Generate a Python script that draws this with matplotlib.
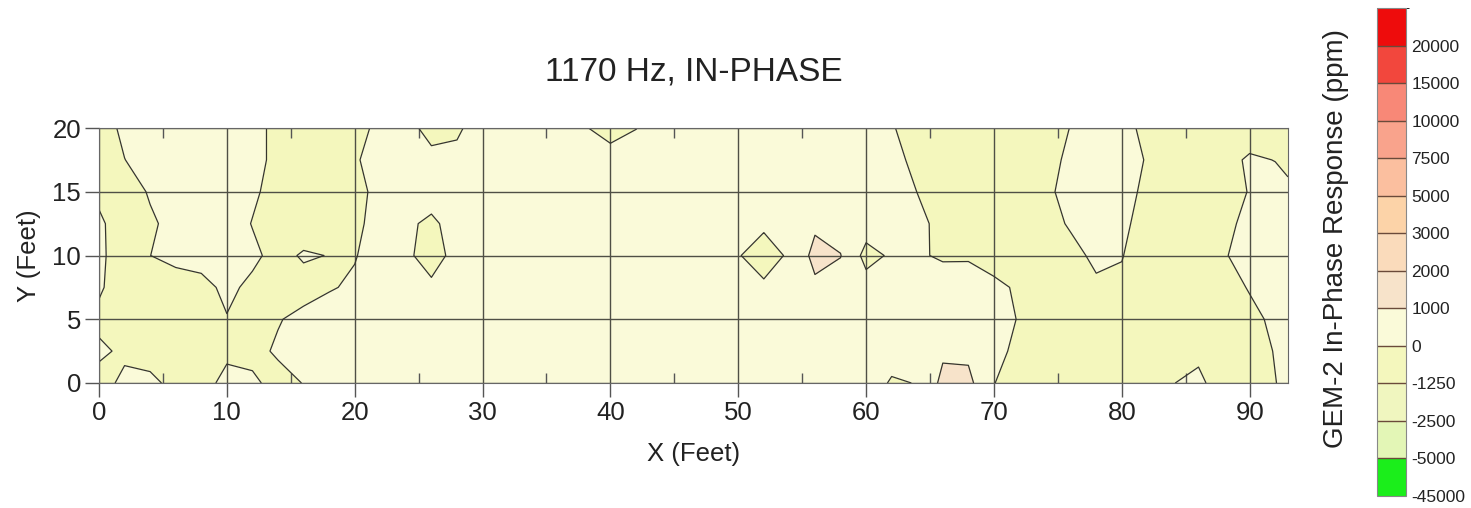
import numpy as np
import matplotlib
matplotlib.use("Agg")
import matplotlib.pyplot as plt
from matplotlib.colors import ListedColormap, BoundaryNorm
from matplotlib.ticker import MultipleLocator

plt.rcParams['font.family'] = ['Liberation Sans', 'DejaVu Sans']

# reading positions (ft): every 2 ft along x, last column at the 93 ft edge
x_ft = list(range(0, 93, 2)) + [93]
y_ft = [20, 17.5, 15, 12.5, 10, 7.5, 5, 2.5, 0]

# in-phase response (ppm), one list per row, top row first
row_20 = [-340, 150, 600, 620, 640, 600, 275, -225, -600, -580, -270, 190, 250, -250, -120, 375,
          610, 650, 575, 50, -300, -25, 450, 620, 660, 640, 600, 620, 650, 630, 550, 70,
          -400, -620, -650, -640, -610, -460, 25, 500, 260, -210, -600, -640, -570, -500, -510, -600]
row_17 = [-490, -10, 285, 600, 630, 600, 275, -225, -600, -590, -100, 380, 350, 200, 200, 560,
          620, 640, 600, 550, 325, 525, 600, 640, 660, 630, 610, 640, 620, 600, 600, 260,
          -215, -600, -660, -650, -620, -305, 180, 600, 425, -70, -570, -620, -300, 125, -20, -230]
row_15 = [-160, -410, 80, 575, 620, 600, 150, -340, -620, -600, -250, 235, 580, 350, 600, 620,
          640, 600, 610, 630, 600, 620, 640, 610, 600, 630, 620, 600, 640, 620, 600, 455,
          -10, -470, -620, -660, -600, -190, 300, 600, 300, -190, -600, -620, -425, 50, 320, 200]
row_12 = [125, -375, -120, 250, 600, 450, -35, -510, -525, -525, -180, 305, 140, -150, 320, 600,
          620, 600, 640, 610, 600, 630, 600, 620, 600, 335, 195, 550, 840, 600, 450, 600,
          215, -245, -600, -640, -620, -325, 95, 550, 170, -320, -600, -620, -230, 245, 600, 600]
row_10 = [140, -360, -5, 235, 325, 525, 180, -285, 100, -25, -55, 445, 160, -350, 275, 600,
          620, 640, 600, 620, 600, 610, 630, 600, 575, 65, -500, 150, 1280, 1030, -300, 125,
          110, -115, -100, -360, -545, -600, -255, 175, 35, -450, -600, -550, -70, 365, 600, 620]
row_7 = [100, -400, -475, -390, -255, 185, -185, -545, -330, -80, 145, 540, 470, 160, 530, 600,
         620, 600, 630, 610, 600, 620, 640, 600, 620, 325, 180, 540, 810, 600, 380, 600,
         585, 465, 430, 190, -120, -600, -475, -140, -145, -600, -640, -600, -370, 65, 500, 600]
row_5 = [-175, -515, -600, -620, -500, -40, -350, -55, 230, 460, 600, 620, 640, 600, 610, 630,
         600, 620, 640, 600, 610, 630, 600, 620, 640, 600, 610, 630, 620, 600, 640, 620,
         600, 610, 600, 425, -65, -560, -600, -640, -620, -600, -610, -640, -600, -245, 185, 400]
row_2 = [130, -125, -360, -525, -515, -140, -240, 110, 450, 600, 620, 640, 600, 610, 630, 600,
         620, 640, 600, 610, 630, 600, 620, 640, 600, 610, 630, 620, 600, 640, 600, 390,
         275, 850, 800, 250, -215, -600, -620, -640, -600, -610, -320, -250, -600, -450, 50, 300]
row_0 = [-255, 150, 200, -250, -270, 205, 150, -280, 25, 525, 600, 620, 640, 600, 610, 630,
         600, 620, 640, 600, 610, 630, 600, 620, 640, 600, 610, 630, 620, 600, 500, -100,
         30, 1250, 1250, 25, -475, -600, -620, -640, -600, -610, -25, 250, -600, -525, -25, 225]

rows = [row_20, row_17, row_15, row_12, row_10, row_7, row_5, row_2, row_0]

levels = [-45000, -5000, -2500, -1250, 0, 1000, 2000, 3000, 5000, 7500, 10000, 15000, 20000, 45000]
level_colors = ['#1bee1b', '#e3f6b6', '#f0f6bf', '#f4f7bd', '#fafad9', '#f7e3ca', '#fadbbb',
                '#fcd3a8', '#fbbf9f', '#f9a38c', '#f88877', '#f2473d', '#ee0c0c']

cmap = ListedColormap(level_colors)
norm = BoundaryNorm(levels, cmap.N)

fig = plt.figure(figsize=(14.71, 5.08), dpi=100)
ax = fig.add_axes([99 / 1471, 125 / 508, 1189 / 1471, 255 / 508])

z = np.array(rows)
cs = ax.contourf(x_ft, y_ft, z, levels=levels, cmap=cmap, norm=norm)
ax.contour(x_ft, y_ft, z, levels=levels, colors='#35352d', linewidths=0.9)

ax.set_xlim(0, 93)
ax.set_ylim(0, 20)
ax.xaxis.set_major_locator(MultipleLocator(10))
ax.xaxis.set_minor_locator(MultipleLocator(5))
ax.yaxis.set_major_locator(MultipleLocator(5))
ax.grid(True, which='major', color='#4f4f45', linewidth=1.0)

ax.tick_params(which='major', direction='out', length=10, width=1, color='#555555',
               labelsize=18.5, labelcolor='#222222', pad=3)
ax.tick_params(axis='x', which='minor', direction='in', length=7, width=1,
               color='#555555', top=True, bottom=True)
for s in ax.spines.values():
    s.set_color('#666666')

ax.set_xlabel('X (Feet)', fontsize=18.5, color='#222222', labelpad=12)
ax.set_ylabel('Y (Feet)', fontsize=18.5, color='#222222', labelpad=8)

fig.text(693.5 / 1471, 1 - 72 / 508, '1170 Hz, IN-PHASE', ha='center', va='center',
         fontsize=24, color='#222222')

# colour scale, equal-height boxes
cax = fig.add_axes([1377 / 1471, 12 / 508, 29 / 1471, 488 / 508])
cb = fig.colorbar(cs, cax=cax, spacing='uniform', drawedges=True)
cb.set_ticks(levels[:-1])
cb.set_ticklabels([str(v) for v in levels[:-1]])
cax.tick_params(length=0, labelsize=12.5, pad=4, labelcolor='#222222')
cb.outline.set_edgecolor('#888888')
cb.dividers.set_color('#6a4a3a')
cb.dividers.set_linewidth(1.0)

fig.text(1336 / 1471, 0.53, 'GEM-2 In-Phase Response (ppm)', rotation=90,
         ha='center', va='center', fontsize=20, color='#222222')

fig.savefig('out.png', dpi=100)
